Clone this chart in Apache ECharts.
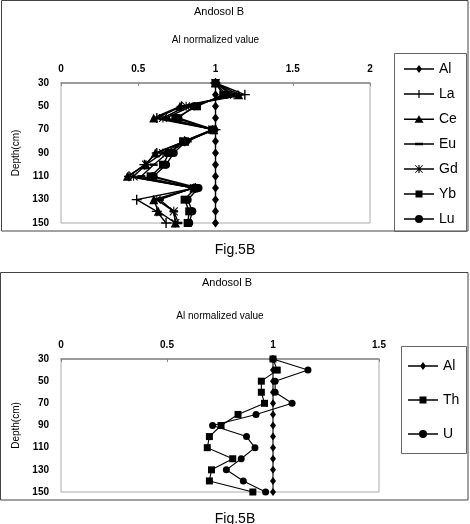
<!DOCTYPE html>
<html><head><meta charset="utf-8">
<script src="https://cdn.jsdelivr.net/npm/echarts@6/dist/echarts.min.js"></script>
<style>html,body{margin:0;padding:0;background:#fff}#c{width:470px;height:524px}</style>
</head><body><div id="c"></div>
<script>
const depths = [30,40,50,60,70,80,90,100,110,120,130,140,150];
// Top chart (REE)
const alTop = [1,1,1,1,1,1,1,1,1,1,1,1,1];
const la = [1.00,1.19,0.78,0.62,1.00,0.80,0.62,0.54,0.44,0.87,0.49,0.62,0.68];
const ce = [1.00,1.15,0.77,0.60,0.99,0.80,0.61,0.55,0.43,0.86,0.60,0.63,0.74];
const eu = [1.00,1.10,0.84,0.68,0.98,0.82,0.69,0.60,0.52,0.85,0.64,0.73,0.76];
const gd = [1.00,1.12,0.81,0.66,0.98,0.80,0.66,0.55,0.47,0.86,0.62,0.73,0.74];
const yb = [1.00,1.05,0.88,0.74,0.98,0.79,0.70,0.66,0.58,0.87,0.80,0.83,0.82];
const lu = [1.00,1.07,0.86,0.76,0.99,0.81,0.73,0.68,0.60,0.89,0.82,0.85,0.83];
// Bottom chart (Th, U)
const alBot = [1,1,1,1,1,1,1,1,1,1,1,1,1];
const th = [1.00,1.02,0.945,0.945,0.96,0.835,0.755,0.70,0.69,0.81,0.71,0.70,0.905];
const u  = [1.00,1.165,1.01,1.01,1.09,0.92,0.715,0.875,0.915,0.85,0.78,0.86,0.965];

const FONT = 'Liberation Sans, Arial, sans-serif';
const pair = v => v.map((x,i)=>[x, depths[i]]);
const PLUS = 'path://M4.3,0H5.7V4.3H10V5.7H5.7V10H4.3V5.7H0V4.3H4.3Z';
const STAR = 'path://M4.4,0H5.6V4.4H10V5.6H5.6V10H4.4V5.6H0V4.4H4.4Z M1,0.2L9.8,9L9,9.8L0.2,1Z M9,0.2L9.8,1L1,9.8L0.2,9Z';

// legend icons: line + marker
const LINE = 'M0,4.2H30V5.8H0Z ';
const ICON = {
  Al: 'path://' + LINE + 'M15,1L18,5L15,9L12,5Z',
  La: 'path://' + LINE + 'M14.4,1H15.6V9H14.4Z',
  Ce: 'path://' + LINE + 'M15,1L19.5,8.5L10.5,8.5Z',
  Eu: 'path://' + LINE + 'M11,3.8H19V6.2H11Z',
  Gd: 'path://' + LINE + 'M14.4,1H15.6V9H14.4Z M11.6,1L19,8.4L18.4,9L11,1.6Z M18.4,1L19,1.6L11.6,9L11,8.4Z',
  Yb: 'path://' + LINE + 'M11.5,1.5H18.5V8.5H11.5Z',
  Lu: 'path://' + LINE + 'M11,5A4,4 0 1 1 19,5A4,4 0 1 1 11,5Z',
  Th: 'path://' + LINE + 'M11.5,1.5H18.5V8.5H11.5Z',
  U:  'path://' + LINE + 'M11,5A4,4 0 1 1 19,5A4,4 0 1 1 11,5Z'
};

function mk(name, vals, sym, size, gi){
  return {name, type:'line', xAxisIndex:gi, yAxisIndex:gi, data:pair(vals),
    symbol:sym, symbolSize:size, showSymbol:true,
    lineStyle:{color:'#000', width: gi===0?1.4:1.1},
    itemStyle:{color:'#000', borderWidth:0},
    emphasis:{disabled:true}, animation:false};
}

const chart = echarts.init(document.getElementById('c'), null, {renderer:'canvas'});
const axisLabel = {color:'#000', fontSize:10, fontFamily:FONT, fontWeight:'bold'};
const xCommon = {type:'value', position:'top', interval:0.5, min:0,
  axisLine:{show:true, lineStyle:{color:'#888', width:1.5}},
  axisTick:{show:true, inside:true, length:3, lineStyle:{color:'#888'}},
  splitLine:{show:false},
  axisLabel:Object.assign({margin:9, formatter:v=>String(v)}, axisLabel),
  name:'Al normalized value', nameLocation:'middle', nameGap:38,
  nameTextStyle:{color:'#000', fontSize:10, fontFamily:FONT}};
const yCommon = {type:'value', inverse:true, min:30, max:150, interval:20,
  axisLine:{show:false}, axisTick:{show:false}, splitLine:{show:false},
  axisLabel:Object.assign({margin:12}, axisLabel),
  name:'Depth(cm)', nameLocation:'middle', nameGap:34, nameRotate:90,
  nameTextStyle:{color:'#000', fontSize:10, fontFamily:FONT}};

const legTop = ['Al','La','Ce','Eu','Gd','Yb','Lu'].map(n=>({name:n, icon:ICON[n]}));
const legBot = ['Al','Th','U'].map(n=>({name:n, icon:ICON[n]}));

chart.setOption({
  animation:false,
  grid:[
    {left:61, top:83, width:309, height:140, show:true, borderColor:'#aaa', borderWidth:1, containLabel:false},
    {left:61, top:359, width:318, height:133, show:true, borderColor:'#aaa', borderWidth:1, containLabel:false}
  ],
  xAxis:[
    Object.assign({}, xCommon, {gridIndex:0, max:2}),
    Object.assign({}, xCommon, {gridIndex:1, max:1.5})
  ],
  yAxis:[
    Object.assign({}, yCommon, {gridIndex:0}),
    Object.assign({}, yCommon, {gridIndex:1})
  ],
  legend:[
    {orient:'vertical', left:404, top:62, itemWidth:30, itemHeight:10, itemGap:11,
     data:legTop, itemStyle:{color:'#000', borderWidth:0},
     textStyle:{color:'#000', fontSize:14, fontFamily:FONT, lineHeight:14},
     selectedMode:false, padding:0},
    {orient:'vertical', left:408, top:359, itemWidth:30, itemHeight:10, itemGap:20,
     data:legBot, itemStyle:{color:'#000', borderWidth:0},
     textStyle:{color:'#000', fontSize:14, fontFamily:FONT, lineHeight:14},
     selectedMode:false, padding:0}
  ],
  graphic:[
    {type:'rect', shape:{x:1.5, y:0.5, width:466.5, height:230.5}, style:{fill:'none', stroke:'#444', lineWidth:1}, silent:true, z:-10},
    {type:'rect', shape:{x:394.5, y:53.5, width:72, height:178}, style:{fill:'none', stroke:'#666', lineWidth:1}, silent:true},
    {type:'text', x:219, y:12, style:{text:'Andosol B', font:'11px '+FONT, fill:'#000', textAlign:'center', textVerticalAlign:'middle'}},
    {type:'text', x:235, y:250, style:{text:'Fig.5B', font:'14px '+FONT, fill:'#000', textAlign:'center', textVerticalAlign:'middle'}},
    {type:'rect', shape:{x:0.5, y:272.5, width:467.5, height:227.5}, style:{fill:'none', stroke:'#444', lineWidth:1}, silent:true, z:-10},
    {type:'rect', shape:{x:401.5, y:346.5, width:65, height:107}, style:{fill:'none', stroke:'#666', lineWidth:1}, silent:true},
    {type:'text', x:227, y:283, style:{text:'Andosol B', font:'11px '+FONT, fill:'#000', textAlign:'center', textVerticalAlign:'middle'}},
    {type:'text', x:235, y:519, style:{text:'Fig.5B', font:'14px '+FONT, fill:'#000', textAlign:'center', textVerticalAlign:'middle'}}
  ],
  series:[
    mk('Al', alTop, 'diamond', [7,9], 0),
    mk('La', la, PLUS, 10, 0),
    mk('Ce', ce, 'triangle', 9, 0),
    mk('Eu', eu, 'rect', [8,2.5], 0),
    mk('Gd', gd, STAR, 9, 0),
    mk('Yb', yb, 'rect', 8, 0),
    mk('Lu', lu, 'circle', 8, 0),
    mk('Al', alBot, 'diamond', [6,8], 1),
    mk('Th', th, 'rect', 7, 1),
    mk('U', u, 'circle', 7, 1)
  ]
});
</script></body></html>
